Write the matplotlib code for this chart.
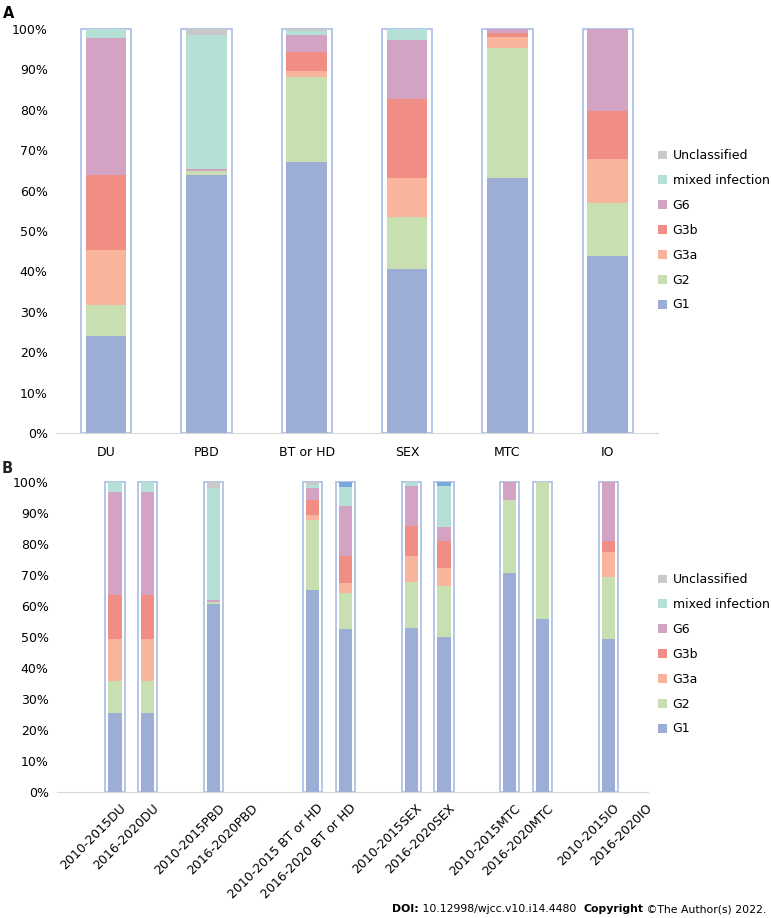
import numpy as np
import matplotlib
matplotlib.use("Agg")
import matplotlib.pyplot as plt
import matplotlib.transforms as mtransforms
from matplotlib.patches import Patch
from matplotlib.ticker import PercentFormatter

plt.rcParams['font.family'] = ['DejaVu Sans']
plt.rcParams['font.size'] = 9

genotypes = ["G1", "G2", "G3a", "G3b", "G6", "mixed infection", "Unclassified"]

# panel A, percent per route
routes = ["DU", "PBD", "BT or HD", "SEX", "MTC", "IO"]
a_g1 = [23.9, 63.9, 67.0, 40.6, 63.2, 43.7]
a_g2 = [7.8, 1.0, 21.2, 12.8, 32.2, 13.2]
a_g3a = [13.6, 0.0, 1.5, 9.8, 2.5, 10.9]
a_g3b = [18.6, 0.0, 4.6, 19.4, 1.1, 11.9]
a_g6 = [33.9, 0.4, 4.2, 14.6, 1.0, 20.3]
a_mixed = [2.2, 33.1, 1.0, 2.8, 0.0, 0.0]
a_uncl = [0.0, 1.6, 0.5, 0.0, 0.0, 0.0]

# panel B, percent per period and route
periods = ["2010-2015DU", "2016-2020DU", "2010-2015PBD", "2016-2020PBD",
           "2010-2015 BT or HD", "2016-2020 BT or HD", "2010-2015SEX", "2016-2020SEX",
           "2010-2015MTC", "2016-2020MTC", "2010-2015IO", "2016-2020IO"]
b_g1 = [25.3, 25.3, 60.6, 0, 65.2, 52.5, 52.7, 49.9, 70.5, 55.6, 49.2, 0]
b_g2 = [10.4, 10.4, 0.6, 0, 22.4, 11.6, 15.0, 16.3, 23.7, 44.4, 19.9, 0]
b_g3a = [13.4, 13.4, 0.0, 0, 1.5, 3.2, 8.3, 6.0, 0.0, 0.0, 8.2, 0]
b_g3b = [14.2, 14.2, 0.0, 0, 5.1, 8.7, 9.6, 8.8, 0.0, 0.0, 3.6, 0]
b_g6 = [33.5, 33.5, 0.5, 0, 3.9, 16.2, 13.1, 4.3, 5.8, 0.0, 19.1, 0]
b_mixed = [3.2, 3.2, 36.4, 0, 0.8, 6.1, 1.3, 13.4, 0.0, 0.0, 0.0, 0]
b_uncl = [0.0, 0.0, 1.9, 0, 1.1, 0.0, 0.0, 0.0, 0.0, 0.0, 0.0, 0]
b_other = [0.0, 0.0, 0.0, 0, 0.0, 1.7, 0.0, 1.3, 0.0, 0.0, 0.0, 0]

colors = ["#9caed6", "#c7dfb1", "#f9b59b", "#f08d85", "#d3a3c4", "#b4e0d5", "#c9c9c9"]
other_color = "#7ba7df"
box_color = "#a9bce8"


def stacked(ax, x, series, cols, inner, outer):
    series = [np.array(s) / 100.0 for s in series]
    total = np.sum(series, axis=0)
    has = total > 0
    ax.bar(np.array(x)[has], total[has], width=outer, color="white",
           edgecolor=box_color, linewidth=1.2, zorder=1, clip_on=False)
    bottom = np.zeros(len(x))
    for s, c in zip(series, cols):
        ax.bar(x, s, width=inner, bottom=bottom, color=c, linewidth=0, zorder=2)
        bottom += s


def style(ax):
    ax.set_ylim(0, 1)
    ax.set_yticks(np.arange(0, 1.01, 0.1))
    ax.yaxis.set_major_formatter(PercentFormatter(1.0, decimals=0))
    for side in ["top", "right", "left"]:
        ax.spines[side].set_visible(False)
    ax.spines["bottom"].set_color("#d9d9d9")
    ax.tick_params(length=0)
    ax.tick_params(axis="y", pad=6)


fig = plt.figure(figsize=(7.71, 9.18), dpi=100)

# panel A
axA = fig.add_axes([0.0726, 0.5283, 0.7808, 0.4401])
xa = np.arange(len(routes))
stacked(axA, xa, [a_g1, a_g2, a_g3a, a_g3b, a_g6, a_mixed, a_uncl], colors, 0.405, 0.5)
style(axA)
axA.set_xlim(-0.5, len(routes) - 0.5)
axA.set_xticks(xa)
axA.set_xticklabels(routes)
axA.tick_params(axis="x", pad=9)

# panel B, two periods per route with a gap between routes
axB = fig.add_axes([0.0739, 0.1376, 0.7666, 0.3377])
xb = [1 + 3 * (i // 2) + i % 2 for i in range(len(periods))]
stacked(axB, xb, [b_g1, b_g2, b_g3a, b_g3b, b_g6, b_mixed, b_uncl, b_other],
        colors + [other_color], 0.4, 0.58)
style(axB)
axB.set_xlim(-0.763, 17.2)
axB.set_xticks(xb)
axB.set_xticklabels(periods, rotation=45, ha="right", va="top", rotation_mode="anchor")
axB.tick_params(axis="x", pad=4)
shift = mtransforms.ScaledTranslation(0.045, -0.045, fig.dpi_scale_trans)
for lab in axB.get_xticklabels():
    lab.set_transform(lab.get_transform() + shift)

handles = [Patch(facecolor=c, edgecolor="none") for c in colors][::-1]
labels = genotypes[::-1]
for ax, ytop in [(axA, 1 - 143 / 918), (axB, 1 - 567 / 918)]:
    fig.legend(handles, labels, loc="upper left", bbox_to_anchor=(652 / 771, ytop),
               frameon=False, handlelength=0.7, handleheight=0.7, handletextpad=0.45,
               labelspacing=0.95, borderpad=0, fontsize=9)

fig.text(0.004, 0.993, "A", fontsize=10.5, fontweight="bold", va="top")
fig.text(0.002, 0.498, "B", fontsize=10.5, fontweight="bold", va="top", color="#222222")

fs = 7.8
ident = mtransforms.IdentityTransform()
t1 = fig.text(392 / 771, 1 - 909 / 918, "DOI:", fontsize=fs, fontweight="bold", va="center")
fig.canvas.draw()
bb = t1.get_window_extent()
ymid = (bb.y0 + bb.y1) / 2
t2 = fig.text(bb.x1, ymid, " 10.12998/wjcc.v10.i14.4480  ", fontsize=fs, va="center",
              transform=ident)
fig.canvas.draw()
t3 = fig.text(t2.get_window_extent().x1, ymid, "Copyright", fontsize=fs, fontweight="bold",
              va="center", transform=ident)
fig.canvas.draw()
fig.text(t3.get_window_extent().x1, ymid, " \u00a9The Author(s) 2022.", fontsize=fs,
         va="center", transform=ident)

fig.savefig("out.png", dpi=100)
